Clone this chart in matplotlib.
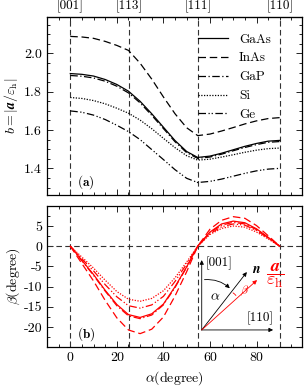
import numpy as np
import matplotlib
matplotlib.use('Agg')
import matplotlib.pyplot as plt
from matplotlib.ticker import MultipleLocator
from matplotlib.patches import FancyArrowPatch

plt.rcParams['font.family'] = 'cmr10'
plt.rcParams['mathtext.fontset'] = 'cm'
plt.rcParams['axes.unicode_minus'] = False
plt.rcParams['font.size'] = 10

# angoli (gradi) e direzioni cristallografiche
alpha = [0, 5, 10, 15, 20, 25, 30, 35, 40, 45, 50, 54.74, 60, 65, 70, 75, 80, 85, 90]
dir_pos = [0, 25.24, 54.74, 90]
dir_labels = ['[001]', '[113]', '[111]', '[110]']

materials = ['GaAs', 'InAs', 'GaP', 'Si', 'Ge']
styles = ['-', (0, (6, 3)), (0, (6, 2, 1, 2)), (0, (1, 1.2)), (0, (6, 2, 1, 1.5, 1, 2))]

# b = |a/eps_h|
b_gaas = [1.895, 1.891, 1.882, 1.864, 1.838, 1.803, 1.750, 1.685, 1.615, 1.545, 1.488, 1.457,
          1.464, 1.479, 1.497, 1.515, 1.530, 1.542, 1.546]
b_inas = [2.089, 2.086, 2.079, 2.063, 2.042, 2.016, 1.949, 1.866, 1.773, 1.685, 1.612, 1.571,
          1.579, 1.595, 1.613, 1.632, 1.648, 1.660, 1.665]
b_gap = [1.885, 1.881, 1.872, 1.855, 1.829, 1.794, 1.742, 1.677, 1.608, 1.539, 1.482, 1.452,
         1.459, 1.474, 1.492, 1.509, 1.524, 1.536, 1.540]
b_si = [1.770, 1.765, 1.754, 1.737, 1.714, 1.688, 1.652, 1.607, 1.557, 1.508, 1.466, 1.443,
        1.448, 1.459, 1.471, 1.484, 1.495, 1.503, 1.506]
b_ge = [1.700, 1.693, 1.678, 1.655, 1.625, 1.592, 1.550, 1.498, 1.446, 1.393, 1.348, 1.326,
        1.332, 1.344, 1.359, 1.374, 1.387, 1.396, 1.400]

# beta (gradi)
beta_gaas = [0, -3.5, -7.0, -10.9, -14.4, -16.9, -17.6, -16.7, -14.3, -10.0, -5.1, 0,
             3.5, 5.5, 6.2, 5.8, 4.3, 2.2, 0]
beta_inas = [0, -4.3, -8.6, -13.4, -17.7, -20.7, -21.6, -20.5, -17.5, -12.3, -6.3, 0,
             4.2, 6.4, 7.3, 6.9, 5.1, 2.6, 0]
beta_gap = [0, -3.6, -7.2, -11.1, -14.7, -17.2, -17.9, -17.0, -14.5, -10.2, -5.2, 0,
            3.4, 5.2, 5.9, 5.5, 4.1, 2.1, 0]
beta_si = [0, -2.7, -5.4, -8.4, -11.2, -13.1, -13.6, -12.9, -11.0, -7.8, -3.9, 0,
           2.9, 4.4, 5.0, 4.7, 3.5, 1.8, 0]
beta_ge = [0, -3.1, -6.1, -9.5, -12.5, -14.7, -15.3, -14.5, -12.4, -8.7, -4.4, 0,
           3.1, 4.8, 5.5, 5.2, 3.9, 2.0, 0]

b_all = [b_gaas, b_inas, b_gap, b_si, b_ge]
beta_all = [beta_gaas, beta_inas, beta_gap, beta_si, beta_ge]

fig = plt.figure(figsize=(3.06, 3.88), dpi=100)
ax1 = fig.add_axes([0.1536, 0.497, 0.833, 0.459])
ax2 = fig.add_axes([0.1536, 0.1057, 0.833, 0.363])

dash_kw = dict(color='#333333', lw=0.8, ls=(0, (5, 3)))

# pannello (a)
for x in dir_pos:
    ax1.axvline(x, **dash_kw)
for name, ls, b in zip(materials, styles, b_all):
    ax1.plot(alpha, b, color='black', ls=ls, lw=0.9, label=name)
ax1.set_xlim(-10, 99.5)
ax1.set_ylim(1.26, 2.19)
ax1.yaxis.set_major_locator(MultipleLocator(0.2))
ax1.yaxis.set_minor_locator(MultipleLocator(0.05))
ax1.set_ylabel(r'$b=|\boldsymbol{a}/\varepsilon_{\rm h}|$', labelpad=3)
ax1.tick_params(labelbottom=False)
ax1.legend(loc='upper right', bbox_to_anchor=(0.925, 0.975), frameon=False, handlelength=2.3,
           handletextpad=0.8, labelspacing=0.5, fontsize=9.5)
ax1.text(3, 1.33, r'$\mathbf{(a)}$', fontsize=9.5, va='center')
sec = ax1.secondary_xaxis('top')
sec.set_xticks(dir_pos, dir_labels)
sec.tick_params(length=0, pad=3, labelsize=9.5)

# pannello (b)
for x in dir_pos:
    ax2.axvline(x, **dash_kw)
ax2.axhline(0, **dash_kw)
for name, ls, beta in zip(materials, styles, beta_all):
    ax2.plot(alpha, beta, color='red', ls=ls, lw=0.9)
ax2.set_xlim(-10, 99.5)
ax2.set_ylim(-24.9, 9.9)
ax2.yaxis.set_major_locator(MultipleLocator(5))
ax2.yaxis.set_minor_locator(MultipleLocator(2.5))
ax2.set_xlabel(r'$\alpha$(degree)')
ax2.set_ylabel(r'$\beta$(degree)', labelpad=1)
ax2.text(3, -21.7, r'$\mathbf{(b)}$', fontsize=9.5, va='center')

for ax in (ax1, ax2):
    ax.xaxis.set_major_locator(MultipleLocator(20))
    ax.xaxis.set_minor_locator(MultipleLocator(5))
    ax.tick_params(which='both', direction='in', top=True, right=True, labelsize=10)
    ax.tick_params(which='major', length=4, width=0.6)
    ax.tick_params(which='minor', length=2.5, width=0.6)
    for s in ax.spines.values():
        s.set_linewidth(0.9)

# schema vettori
O = (0.607, 0.121)
ak = dict(arrowstyle='-|>', mutation_scale=6, lw=0.6, shrinkA=0, shrinkB=0)
ax2.annotate('', xy=(0.607, 0.617), xytext=O, xycoords='axes fraction',
             arrowprops=dict(color='black', **ak))
ax2.annotate('', xy=(0.887, 0.121), xytext=O, xycoords='axes fraction',
             arrowprops=dict(color='black', **ak))
ax2.annotate('', xy=(0.784, 0.532), xytext=O, xycoords='axes fraction',
             arrowprops=dict(color='black', **ak))
ax2.annotate('', xy=(0.824, 0.475), xytext=O, xycoords='axes fraction',
             arrowprops=dict(color='red', **ak))
ax2.add_patch(FancyArrowPatch((0.607, 0.476), (0.725, 0.404), transform=ax2.transAxes,
                              connectionstyle='arc3,rad=-0.25', arrowstyle='-|>',
                              mutation_scale=6, lw=0.6, color='black'))
ax2.add_patch(FancyArrowPatch((0.720, 0.393), (0.747, 0.349), transform=ax2.transAxes,
                              connectionstyle='arc3,rad=-0.2', arrowstyle='-',
                              lw=0.6, color='red'))
ax2.text(0.62, 0.596, '[001]', transform=ax2.transAxes, va='center', ha='left', fontsize=9.5)
ax2.text(0.835, 0.206, '[110]', transform=ax2.transAxes, va='center', ha='center', fontsize=9.5)
ax2.text(0.805, 0.55, r'$\boldsymbol{n}$', transform=ax2.transAxes, va='center', ha='left',
         fontsize=10)
ax2.text(0.659, 0.355, r'$\alpha$', transform=ax2.transAxes, va='center', ha='center',
         fontsize=10)
ax2.text(0.773, 0.397, r'$\beta$', transform=ax2.transAxes, va='center', ha='center',
         color='red', fontsize=8.5)
ax2.text(0.86, 0.51, r'$\dfrac{\boldsymbol{a}}{\varepsilon_{\rm h}}$', transform=ax2.transAxes,
         va='center', ha='left', color='red', fontsize=13)

fig.savefig('out.png', dpi=100)
